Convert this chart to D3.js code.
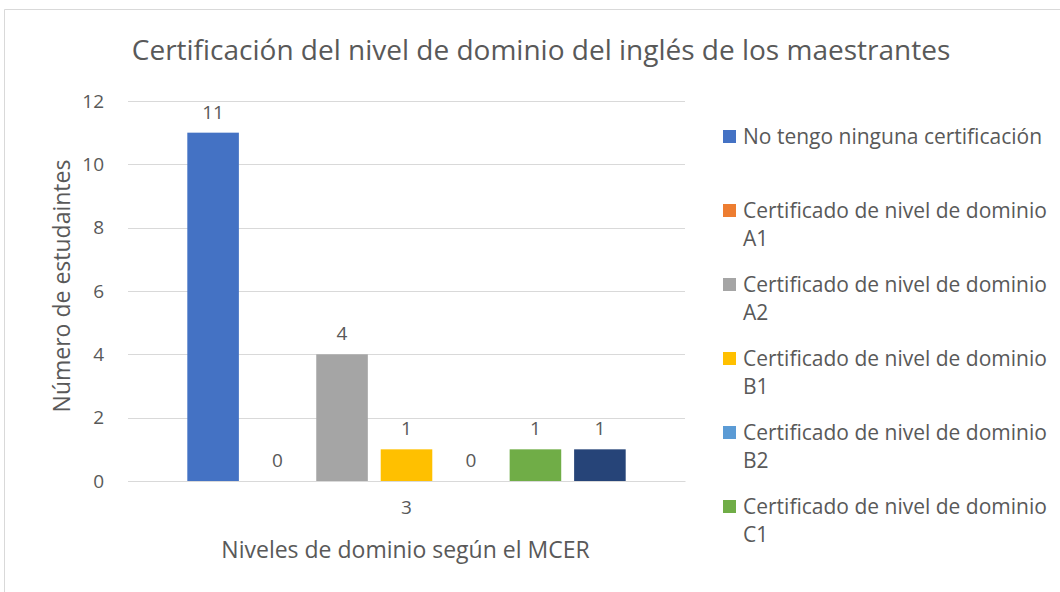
<!DOCTYPE html>
<html>
<head>
<meta charset="utf-8">
<script src="https://cdn.jsdelivr.net/npm/d3@7"></script>
<style>
  html, body { margin: 0; padding: 0; background: #fff; }
  svg { display: block; }
  text { font-family: "Open Sans", Lato, sans-serif; fill: #595959; }
</style>
</head>
<body>
<svg id="chart" width="1060" height="592"></svg>
<script>
const categories = ["3"];
const seriesNames = [
  "No tengo ninguna certificación",
  "Certificado de nivel de dominio A1",
  "Certificado de nivel de dominio A2",
  "Certificado de nivel de dominio B1",
  "Certificado de nivel de dominio B2",
  "Certificado de nivel de dominio C1",
  "Certificado de nivel de dominio C2"
];
const seriesValues = [11, 0, 4, 1, 0, 1, 1];
const seriesColors = ["#4472C4", "#ED7D31", "#A5A5A5", "#FFC000", "#5B9BD5", "#70AD47", "#264478"];
const yTicks = [0, 2, 4, 6, 8, 10, 12];
const title = "Certificación del nivel de dominio del inglés de los maestrantes";
const yTitle = "Número de estudaintes";
const xTitle = "Niveles de dominio según el MCER";

const W = 1060, H = 592;
const svg = d3.select("#chart");

// chart border
svg.append("path")
  .attr("d", `M4.5,${H} L4.5,9.5 L${W},9.5`)
  .attr("fill", "none").attr("stroke", "#d9d9d9").attr("stroke-width", 1);

const plot = { left: 128, right: 685, top: 101, bottom: 481 };

const y = d3.scaleLinear().domain([0, 12]).range([plot.bottom, plot.top]);
const x0 = d3.scaleBand().domain(categories).range([plot.left, plot.right]).paddingInner(0).paddingOuter(0.1);
const x1 = d3.scaleBand().domain(d3.range(seriesNames.length)).range([0, x0.bandwidth()]).paddingInner(0.2).paddingOuter(0.2);

// title
svg.append("text").attr("x", 541).attr("y", 60).attr("text-anchor", "middle")
  .style("font-size", "28px").text(title);

// gridlines
svg.append("g").selectAll("line").data(yTicks).join("line")
  .attr("x1", plot.left).attr("x2", plot.right)
  .attr("y1", d => Math.round(y(d)) + 0.5).attr("y2", d => Math.round(y(d)) + 0.5)
  .attr("stroke", "#d9d9d9").attr("stroke-width", 1);

// y axis
const yAxis = d3.axisLeft(y).tickValues(yTicks).tickSize(0).tickPadding(24);
const gy = svg.append("g").attr("transform", `translate(${plot.left},0)`).call(yAxis);
gy.select(".domain").remove();
gy.selectAll("text").style("font-size", "19px").style("fill", "#595959").attr("font-family", null);

// x axis
const xAxis = d3.axisBottom(x0).tickSize(0).tickPadding(20);
const gx = svg.append("g").attr("transform", `translate(0,${plot.bottom})`).call(xAxis);
gx.select(".domain").attr("stroke", "#d9d9d9");
gx.selectAll("text").style("font-size", "19px").style("fill", "#595959").attr("font-family", null);

// bars
const gBars = svg.append("g").attr("transform", `translate(${x0(categories[0])},0)`);
gBars.selectAll("rect").data(seriesValues).join("rect")
  .attr("x", (d, i) => x1(i))
  .attr("width", x1.bandwidth())
  .attr("y", d => y(d))
  .attr("height", d => y(0) - y(d))
  .attr("fill", (d, i) => seriesColors[i]);

gBars.selectAll("text.lbl").data(seriesValues).join("text").attr("class", "lbl")
  .attr("x", (d, i) => x1(i) + x1.bandwidth() / 2)
  .attr("y", d => y(d) - 14)
  .attr("text-anchor", "middle")
  .style("font-size", "19px")
  .text(d => d);

// axis titles
svg.append("text").attr("transform", `translate(70,${(plot.top + plot.bottom) / 2 - 5}) rotate(-90)`)
  .attr("text-anchor", "middle").style("font-size", "23px").text(yTitle);
svg.append("text").attr("x", (plot.left + plot.right) / 2 - 1).attr("y", 558)
  .attr("text-anchor", "middle").style("font-size", "23px").text(xTitle);

// legend (like the reference, entries that do not fit in the chart area are not shown)
const legend = svg.append("g");
const itemStep = 74;
const prefix = "Certificado de nivel de dominio";
seriesNames.forEach((name, i) => {
  const gy0 = 137 + i * itemStep;
  const wraps = name.startsWith(prefix);
  if (gy0 + (wraps ? 28 : 0) + 10 > H) return;
  const g = legend.append("g");
  g.append("rect").attr("x", 723).attr("y", gy0 - 7).attr("width", 13).attr("height", 13)
    .attr("fill", seriesColors[i]);
  const t = g.append("text").attr("x", 743).attr("y", gy0 + 7).style("font-size", "21px");
  if (wraps) {
    t.append("tspan").attr("x", 743).text(prefix);
    t.append("tspan").attr("x", 743).attr("dy", 28).text(name.slice(prefix.length + 1));
  } else {
    t.text(name);
  }
});
</script>
</body>
</html>
